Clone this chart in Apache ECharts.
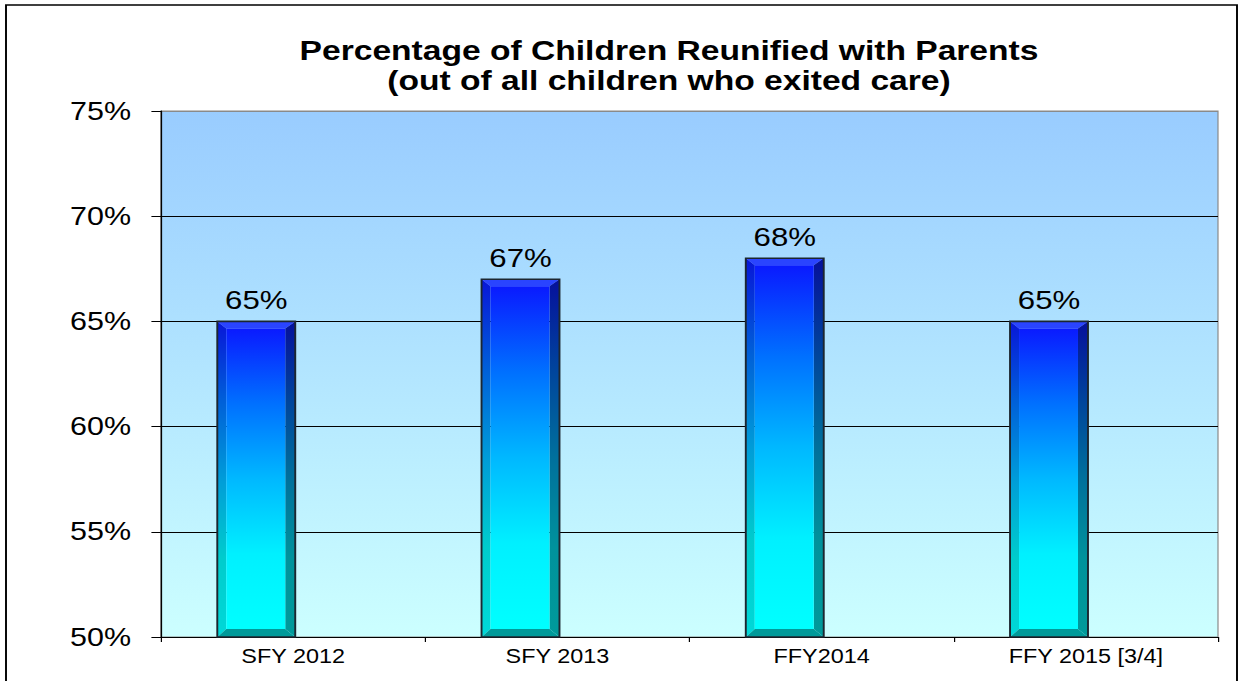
<!DOCTYPE html>
<html>
<head>
<meta charset="utf-8">
<script src="https://cdn.jsdelivr.net/npm/echarts@6/dist/echarts.min.js"></script>
<style>
html,body{margin:0;padding:0;background:#fff;overflow:hidden;}
#chart{width:1039.17px;height:681px;transform:scaleX(1.2);transform-origin:0 0;}
</style>
</head>
<body>
<div id="chart"></div>
<script>
// ---- data ----
const categories = ['SFY 2012', 'SFY 2013', 'FFY2014', 'FFY 2015 [3/4]'];
const reunifiedPct = [65, 67, 68, 65];
const yTicks = [50, 55, 60, 65, 70, 75];
const titleLines = ['Percentage of Children Reunified with Parents', '(out of all children who exited care)'];

const FONT = '"Liberation Sans", Arial, sans-serif';
const SX = 1.2; // horizontal stretch applied by CSS

const chart = echarts.init(document.getElementById('chart'), null, {renderer: 'svg', width: 1039.17, height: 681});

function grad(stops) {
  return {type: 'linear', x: 0, y: 0, x2: 0, y2: 1, colorStops: stops.map((c, i) => ({offset: i / (stops.length - 1), color: c}))};
}

function renderBar(params, api) {
  const idx = api.value(0);
  const val = api.value(1);
  const top = api.coord([idx, val]);
  const base = api.coord([idx, yTicks[0]]);
  const catW = api.size([1, 0])[0];
  const cx = top[0];
  const x1 = cx + catW * 0.008;
  const x0 = x1 - catW * 0.295;
  const y0 = top[1];
  const y1 = base[1];
  const bl = 9 / SX, br = 10 / SX, bt = 7, bb = 8;
  const face = grad(['#0a1aff', '#0070ff', '#00b8ff', '#00f0ff', '#00ffff']);
  const left = grad(['#0816d8', '#005fd8', '#009cd8', '#00cccc', '#00d8d8']);
  const right = grad(['#06109c', '#00449c', '#00709c', '#00929c', '#009a9a']);
  return {
    type: 'group',
    children: [
      {type: 'polygon', shape: {points: [[x0, y0], [x1, y0], [x1 - br, y0 + bt], [x0 + bl, y0 + bt]]}, style: {fill: '#2a44ff'}},
      {type: 'polygon', shape: {points: [[x0, y0], [x0 + bl, y0 + bt], [x0 + bl, y1 - bb], [x0, y1]]}, style: {fill: left}},
      {type: 'polygon', shape: {points: [[x1, y0], [x1, y1], [x1 - br, y1 - bb], [x1 - br, y0 + bt]]}, style: {fill: right}},
      {type: 'polygon', shape: {points: [[x0, y1], [x0 + bl, y1 - bb], [x1 - br, y1 - bb], [x1, y1]]}, style: {fill: '#009a9a'}},
      {type: 'rect', shape: {x: x0 + bl, y: y0 + bt, width: x1 - x0 - bl - br, height: y1 - y0 - bt - bb}, style: {fill: face}},
      {type: 'rect', shape: {x: x0, y: y0, width: x1 - x0, height: y1 - y0}, style: {fill: 'none', stroke: '#1c2630', lineWidth: 1.6}},
      {type: 'text', x: (x0 + x1) / 2, y: y0 - 8, style: {text: val + '%', align: 'center', verticalAlign: 'bottom', font: '26px ' + FONT, fill: '#000'}}
    ]
  };
}

chart.setOption({
  animation: false,
  graphic: [
    {type: 'rect', shape: {x: 5, y: 5, width: (1237 - 6) / SX, height: 720}, style: {fill: 'none', stroke: '#000', lineWidth: 1.6}, silent: true},
    {type: 'text', x: 557.5, y: 35.5, style: {text: titleLines.join('\n'), align: 'center', verticalAlign: 'top', font: 'bold 28px ' + FONT, lineHeight: 30, fill: '#000'}}
  ],
  grid: {
    left: 161 / SX, right: 1039.17 - 1218 / SX, top: 111, bottom: 44,
    show: true,
    backgroundColor: grad(['#99ccff', '#ccffff']),
    borderColor: '#8a8a8a', borderWidth: 1
  },
  xAxis: {
    type: 'category',
    data: categories,
    axisLine: {lineStyle: {color: '#000', width: 1.2}},
    axisTick: {show: true, length: 5, lineStyle: {color: '#000'}},
    axisLabel: {color: '#000', fontFamily: FONT, fontSize: 19.5, margin: 10},
    splitLine: {show: false}
  },
  yAxis: {
    type: 'value',
    min: yTicks[0], max: yTicks[yTicks.length - 1], interval: 5,
    axisLine: {show: true, lineStyle: {color: '#000', width: 1.2}},
    axisTick: {show: true, length: 8, lineStyle: {color: '#000'}},
    axisLabel: {color: '#000', fontFamily: FONT, fontSize: 25.4, margin: 25, formatter: '{value}%'},
    splitLine: {show: true, lineStyle: {color: ['#000', '#000', '#000', '#000', '#000', '#8a8a8a'], width: 1}}
  },
  series: [{
    type: 'custom',
    renderItem: renderBar,
    encode: {x: 0, y: 1},
    data: reunifiedPct.map((v, i) => [i, v]),
    clip: false
  }]
});
</script>
</body>
</html>
